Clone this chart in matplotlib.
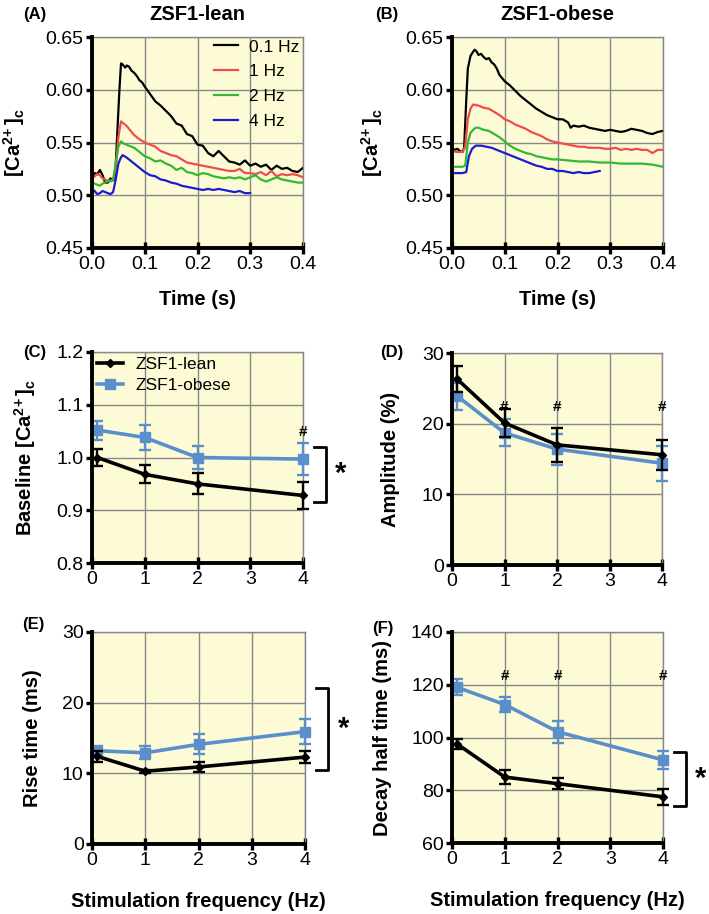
import matplotlib
matplotlib.use('Agg')
import matplotlib.pyplot as plt

plt.rcParams['font.family'] = ['Liberation Sans', 'DejaVu Sans']
plt.rcParams['mathtext.fontset'] = 'custom'
plt.rcParams['mathtext.rm'] = 'Liberation Sans:bold'
plt.rcParams['mathtext.it'] = 'Liberation Sans:bold'
plt.rcParams['mathtext.bf'] = 'Liberation Sans:bold'

# ---- traces, panel A (ZSF1-lean) ----
a_t_01 = [0, 0.005, 0.01, 0.015, 0.02, 0.025, 0.03, 0.035, 0.04, 0.044, 0.048, 0.052, 0.055,
          0.058, 0.063, 0.066, 0.07, 0.075, 0.08, 0.085, 0.09, 0.095, 0.1, 0.11, 0.12, 0.13,
          0.14, 0.15, 0.16, 0.17, 0.18, 0.19, 0.2, 0.21, 0.22, 0.23, 0.24, 0.25, 0.26, 0.27,
          0.28, 0.29, 0.3, 0.31, 0.32, 0.33, 0.34, 0.35, 0.36, 0.37, 0.38, 0.39, 0.4]
a_v_01 = [0.517, 0.521, 0.520, 0.524, 0.519, 0.512, 0.512, 0.516, 0.514, 0.518, 0.560, 0.600, 0.625,
          0.624, 0.621, 0.623, 0.622, 0.618, 0.616, 0.613, 0.609, 0.607, 0.603, 0.596, 0.589, 0.585,
          0.580, 0.575, 0.568, 0.566, 0.558, 0.556, 0.548, 0.547, 0.540, 0.537, 0.542, 0.537, 0.532, 0.531,
          0.529, 0.533, 0.528, 0.530, 0.527, 0.529, 0.524, 0.528, 0.525, 0.526, 0.523, 0.522, 0.526]
a_t_1 = [0, 0.005, 0.01, 0.015, 0.02, 0.025, 0.03, 0.035, 0.04, 0.045, 0.05, 0.055, 0.06, 0.065,
         0.07, 0.075, 0.08, 0.09, 0.1, 0.11, 0.12, 0.13, 0.14, 0.15, 0.16, 0.17, 0.18, 0.19, 0.2,
         0.21, 0.22, 0.23, 0.24, 0.25, 0.26, 0.27, 0.28, 0.29, 0.3, 0.31, 0.32, 0.33, 0.34, 0.35,
         0.36, 0.37, 0.38, 0.39, 0.4]
a_v_1 = [0.515, 0.518, 0.520, 0.519, 0.516, 0.515, 0.513, 0.514, 0.515, 0.525, 0.555, 0.570, 0.568, 0.566,
         0.563, 0.560, 0.557, 0.553, 0.550, 0.548, 0.546, 0.542, 0.540, 0.538, 0.537, 0.534, 0.531, 0.530, 0.529,
         0.528, 0.527, 0.526, 0.525, 0.524, 0.523, 0.523, 0.525, 0.521, 0.521, 0.520, 0.522, 0.519, 0.523, 0.518,
         0.520, 0.519, 0.520, 0.519, 0.517]
a_t_2 = [0, 0.005, 0.01, 0.015, 0.02, 0.025, 0.03, 0.035, 0.04, 0.045, 0.05, 0.055, 0.06, 0.065,
         0.07, 0.08, 0.09, 0.1, 0.11, 0.12, 0.13, 0.14, 0.15, 0.16, 0.17, 0.18, 0.19, 0.2, 0.21,
         0.22, 0.23, 0.24, 0.25, 0.26, 0.27, 0.28, 0.29, 0.3, 0.31, 0.32, 0.33, 0.34, 0.35, 0.36,
         0.37, 0.38, 0.39, 0.4]
a_v_2 = [0.512, 0.511, 0.510, 0.509, 0.511, 0.512, 0.514, 0.513, 0.515, 0.530, 0.546, 0.551, 0.549, 0.548,
         0.547, 0.545, 0.541, 0.537, 0.535, 0.532, 0.533, 0.530, 0.528, 0.524, 0.526, 0.522, 0.521, 0.519, 0.521,
         0.520, 0.518, 0.517, 0.516, 0.517, 0.516, 0.517, 0.515, 0.517, 0.519, 0.515, 0.513, 0.515, 0.517, 0.515,
         0.514, 0.513, 0.512, 0.512]
a_t_4 = [0, 0.005, 0.01, 0.015, 0.02, 0.025, 0.03, 0.035, 0.04, 0.045, 0.05, 0.055, 0.058, 0.065,
         0.07, 0.08, 0.09, 0.1, 0.11, 0.12, 0.13, 0.14, 0.15, 0.16, 0.17, 0.18, 0.19, 0.2, 0.21,
         0.22, 0.23, 0.24, 0.25, 0.26, 0.27, 0.28, 0.29, 0.3]
a_v_4 = [0.506, 0.504, 0.501, 0.502, 0.504, 0.503, 0.502, 0.501, 0.503, 0.515, 0.530, 0.536, 0.538, 0.536,
         0.534, 0.530, 0.526, 0.522, 0.519, 0.518, 0.515, 0.514, 0.512, 0.511, 0.509, 0.508, 0.507, 0.506, 0.505,
         0.506, 0.505, 0.506, 0.505, 0.504, 0.503, 0.504, 0.502, 0.502]

# ---- traces, panel B (ZSF1-obese) ----
b_t_01 = [0, 0.005, 0.01, 0.015, 0.02, 0.023, 0.027, 0.03, 0.035, 0.04, 0.043, 0.047, 0.05, 0.055,
          0.06, 0.065, 0.07, 0.075, 0.08, 0.085, 0.09, 0.095, 0.1, 0.11, 0.12, 0.13, 0.14, 0.15,
          0.16, 0.17, 0.18, 0.19, 0.2, 0.21, 0.22, 0.225, 0.23, 0.24, 0.25, 0.26, 0.27, 0.28, 0.29,
          0.3, 0.31, 0.32, 0.33, 0.34, 0.35, 0.36, 0.37, 0.38, 0.39, 0.4]
b_v_01 = [0.545, 0.543, 0.544, 0.542, 0.541, 0.545, 0.590, 0.620, 0.632, 0.636, 0.638, 0.636, 0.633, 0.634,
          0.631, 0.629, 0.630, 0.626, 0.624, 0.620, 0.614, 0.611, 0.608, 0.604, 0.599, 0.594, 0.590, 0.586,
          0.582, 0.579, 0.576, 0.574, 0.572, 0.572, 0.569, 0.564, 0.566, 0.565, 0.566, 0.564, 0.563, 0.562, 0.561,
          0.562, 0.561, 0.560, 0.561, 0.563, 0.562, 0.561, 0.559, 0.558, 0.560, 0.561]
b_t_1 = [0, 0.01, 0.02, 0.025, 0.03, 0.035, 0.04, 0.05, 0.06, 0.07, 0.08, 0.09, 0.1, 0.11, 0.12,
         0.13, 0.14, 0.15, 0.16, 0.17, 0.18, 0.19, 0.2, 0.21, 0.22, 0.23, 0.24, 0.25, 0.26, 0.27,
         0.28, 0.29, 0.3, 0.31, 0.32, 0.33, 0.34, 0.35, 0.36, 0.37, 0.38, 0.39, 0.4]
b_v_1 = [0.542, 0.541, 0.541, 0.546, 0.572, 0.582, 0.586, 0.585, 0.583, 0.582, 0.579, 0.576, 0.572, 0.570, 0.567,
         0.565, 0.563, 0.560, 0.558, 0.556, 0.553, 0.551, 0.550, 0.549, 0.548, 0.547, 0.546, 0.546, 0.545, 0.545,
         0.545, 0.544, 0.544, 0.545, 0.543, 0.544, 0.543, 0.544, 0.543, 0.543, 0.540, 0.543, 0.543]
b_t_2 = [0, 0.01, 0.02, 0.025, 0.03, 0.035, 0.04, 0.045, 0.05, 0.06, 0.07, 0.08, 0.09, 0.1, 0.11,
         0.12, 0.13, 0.14, 0.15, 0.16, 0.17, 0.18, 0.19, 0.2, 0.22, 0.24, 0.26, 0.28, 0.3, 0.32,
         0.34, 0.36, 0.38, 0.4]
b_v_2 = [0.527, 0.527, 0.527, 0.528, 0.550, 0.559, 0.562, 0.564, 0.564, 0.562, 0.561, 0.558, 0.555, 0.551, 0.547,
         0.544, 0.542, 0.540, 0.539, 0.537, 0.536, 0.535, 0.534, 0.534, 0.533, 0.532, 0.532, 0.531, 0.531, 0.530,
         0.530, 0.530, 0.529, 0.527]
b_t_4 = [0, 0.01, 0.02, 0.027, 0.032, 0.038, 0.045, 0.055, 0.065, 0.075, 0.085, 0.095, 0.1, 0.11,
         0.12, 0.13, 0.14, 0.15, 0.16, 0.17, 0.18, 0.19, 0.2, 0.21, 0.22, 0.23, 0.24, 0.25, 0.26,
         0.27, 0.28]
b_v_4 = [0.521, 0.521, 0.521, 0.522, 0.537, 0.544, 0.547, 0.547, 0.546, 0.545, 0.543, 0.541, 0.540, 0.538,
         0.536, 0.534, 0.532, 0.530, 0.528, 0.527, 0.525, 0.525, 0.523, 0.523, 0.522, 0.521, 0.522, 0.521, 0.521,
         0.522, 0.523]

trace_labels = ['0.1 Hz', '1 Hz', '2 Hz', '4 Hz']
trace_colors = ['black', '#f04c4c', '#33b833', '#1c1ccf']

# ---- summary data, panels C-F ----
freq = [0.1, 1, 2, 4]
base_lean = [1.000, 0.968, 0.950, 0.928]
base_lean_err = [0.016, 0.017, 0.020, 0.026]
base_obese = [1.052, 1.038, 1.000, 0.997]
base_obese_err = [0.018, 0.024, 0.022, 0.030]

amp_lean = [26.3, 20.1, 17.0, 15.6]
amp_lean_err = [1.8, 2.0, 2.4, 2.1]
amp_obese = [23.9, 18.7, 16.4, 14.4]
amp_obese_err = [1.9, 1.9, 2.2, 2.5]

rise_lean = [12.4, 10.3, 10.9, 12.3]
rise_lean_err = [0.8, 0.2, 0.7, 0.9]
rise_obese = [13.2, 12.9, 14.1, 15.9]
rise_obese_err = [0.7, 0.9, 1.4, 1.8]

decay_lean = [97.5, 85.0, 82.5, 77.5]
decay_lean_err = [2.0, 2.5, 2.2, 3.0]
decay_obese = [119.0, 112.5, 102.2, 91.5]
decay_obese_err = [3.0, 3.0, 4.2, 3.5]

BG = '#fdfbd6'
BLUE = '#5b8fcb'
W, H = 709, 914
TICK = 14
LAB = 14.5

fig = plt.figure(figsize=(W / 100, H / 100), dpi=100)


def add_ax(left, top, right, bottom):
    return fig.add_axes([left / W, 1 - bottom / H, (right - left) / W, (bottom - top) / H])


def style(ax, xlim, ylim, xticks, yticks):
    ax.set_facecolor(BG)
    ax.set_xlim(xlim)
    ax.set_ylim(ylim)
    ax.set_xticks(xticks)
    ax.set_yticks(yticks)
    ax.grid(True, color='#888888', lw=1)
    ax.set_axisbelow(True)
    for s in ['top', 'right']:
        ax.spines[s].set_color('#888888')
        ax.spines[s].set_linewidth(1)
    for s in ['left', 'bottom']:
        ax.spines[s].set_linewidth(2.8)
        ax.spines[s].set_zorder(5)
    ax.tick_params(axis='x', direction='inout', length=8, width=2.4, labelsize=TICK, pad=2)
    ax.tick_params(axis='y', direction='out', length=4, width=2.4, labelsize=TICK, pad=2)


ylab_ca = r'[Ca$^{2\!+}$]$_{c}$'

# panel A and B
traces = [
    ('ZSF1-lean', (92, 37, 303, 248), [(a_t_01, a_v_01), (a_t_1, a_v_1), (a_t_2, a_v_2), (a_t_4, a_v_4)], -0.308),
    ('ZSF1-obese', (452, 37, 663, 248), [(b_t_01, b_v_01), (b_t_1, b_v_1), (b_t_2, b_v_2), (b_t_4, b_v_4)], -0.318),
]
for i, (title, box, series, ylx) in enumerate(traces):
    ax = add_ax(*box)
    style(ax, (0, 0.4), (0.45, 0.65), [0, 0.1, 0.2, 0.3, 0.4], [0.45, 0.5, 0.55, 0.6, 0.65])
    ax.set_xticklabels(['0.0', '0.1', '0.2', '0.3', '0.4'])
    ax.set_yticklabels(['0.45', '0.50', '0.55', '0.60', '0.65'])
    for (t, v), lab, c in zip(series, trace_labels, trace_colors):
        ax.plot(t, v, color=c, lw=1.6, label=lab)
    ax.set_title(title, fontsize=LAB, fontweight='bold', pad=12)
    ax.set_xlabel('Time (s)', fontsize=LAB, fontweight='bold')
    ax.xaxis.set_label_coords(0.5, -0.2)
    ax.set_ylabel(ylab_ca, fontsize=LAB, fontweight='bold')
    ax.yaxis.set_label_coords(ylx, 0.5)
    if i == 0:
        ax.legend(loc='upper right', frameon=False, fontsize=12.5, handlelength=1.35,
                  borderpad=0.2, borderaxespad=0.0, labelspacing=0.55, handletextpad=0.65,
                  bbox_to_anchor=(1.0, 1.005))

# panels C-F
summary = [
    ((92, 352, 303, 563), (0.8, 1.2), [0.8, 0.9, 1.0, 1.1, 1.2], ['0.8', '0.9', '1.0', '1.1', '1.2'],
     'Baseline ' + ylab_ca, -0.256, base_lean, base_lean_err, base_obese, base_obese_err,
     [(4, 1.049)], (0.916, 1.02)),
    ((452, 353, 662, 565), (0, 30), [0, 10, 20, 30], ['0', '10', '20', '30'],
     'Amplitude (%)', -0.248, amp_lean, amp_lean_err, amp_obese, amp_obese_err,
     [(1, 22.4), (2, 22.4), (4, 22.4)], None),
    ((92, 632, 305, 844), (0, 30), [0, 10, 20, 30], ['0', '10', '20', '30'],
     'Rise time (ms)', -0.235, rise_lean, rise_lean_err, rise_obese, rise_obese_err,
     [], (10.5, 22.1)),
    ((452, 632, 663, 843), (60, 140), [60, 80, 100, 120, 140], ['60', '80', '100', '120', '140'],
     'Decay half time (ms)', -0.284, decay_lean, decay_lean_err, decay_obese, decay_obese_err,
     [(1, 123.4), (2, 123.4), (4, 123.4)], (73.9, 94.4)),
]
for j, (box, ylim, yt, ytl, ylab, ylx, ln, lne, ob, obe, hashes, br) in enumerate(summary):
    ax = add_ax(*box)
    style(ax, (0, 4), ylim, [0, 1, 2, 3, 4], yt)
    ax.set_yticklabels(ytl)
    eb_ob = ax.errorbar(freq, ob, yerr=obe, color=BLUE, lw=2.6, marker='s', ms=7, capsize=4.5,
                        elinewidth=1.7, capthick=1.7, zorder=3, clip_on=False)
    eb_ln = ax.errorbar(freq, ln, yerr=lne, color='black', lw=2.6, marker='D', ms=3.8, capsize=4.5,
                        elinewidth=1.7, capthick=1.7, zorder=4, clip_on=False)
    ax.set_ylabel(ylab, fontsize=LAB, fontweight='bold')
    ax.yaxis.set_label_coords(ylx, 0.5)
    for hx, hy in hashes:
        ax.text(hx, hy, '#', ha='center', va='center', fontsize=11, fontweight='bold')
    if br is not None:
        lo, hi = br
        ax.plot([4.2, 4.44, 4.44, 4.2], [hi, hi, lo, lo], color='black', lw=2, clip_on=False)
        ax.text(4.72, (lo + hi) / 2, '*', ha='center', va='center', fontsize=21, fontweight='bold')
    if j >= 2:
        ax.set_xlabel('Stimulation frequency (Hz)', fontsize=LAB, fontweight='bold')
        ax.xaxis.set_label_coords(0.5, -0.226)
    if j == 0:
        ax.legend([eb_ln[0], eb_ob[0]], ['ZSF1-lean', 'ZSF1-obese'], loc='upper left',
                  frameon=False, fontsize=12.5, handlelength=1.5, borderpad=0.3,
                  borderaxespad=0.0, labelspacing=0.3, handletextpad=0.7,
                  bbox_to_anchor=(0.0, 1.0))

# panel letters
for lab, x, y in [('(A)', 35, 15), ('(B)', 387, 15), ('(C)', 35, 352), ('(D)', 392, 353),
                  ('(E)', 33, 625), ('(F)', 383, 628)]:
    fig.text(x / W, 1 - y / H, lab, ha='center', va='center', fontsize=12, fontweight='bold')

fig.savefig('out.png', dpi=100, facecolor='white')
